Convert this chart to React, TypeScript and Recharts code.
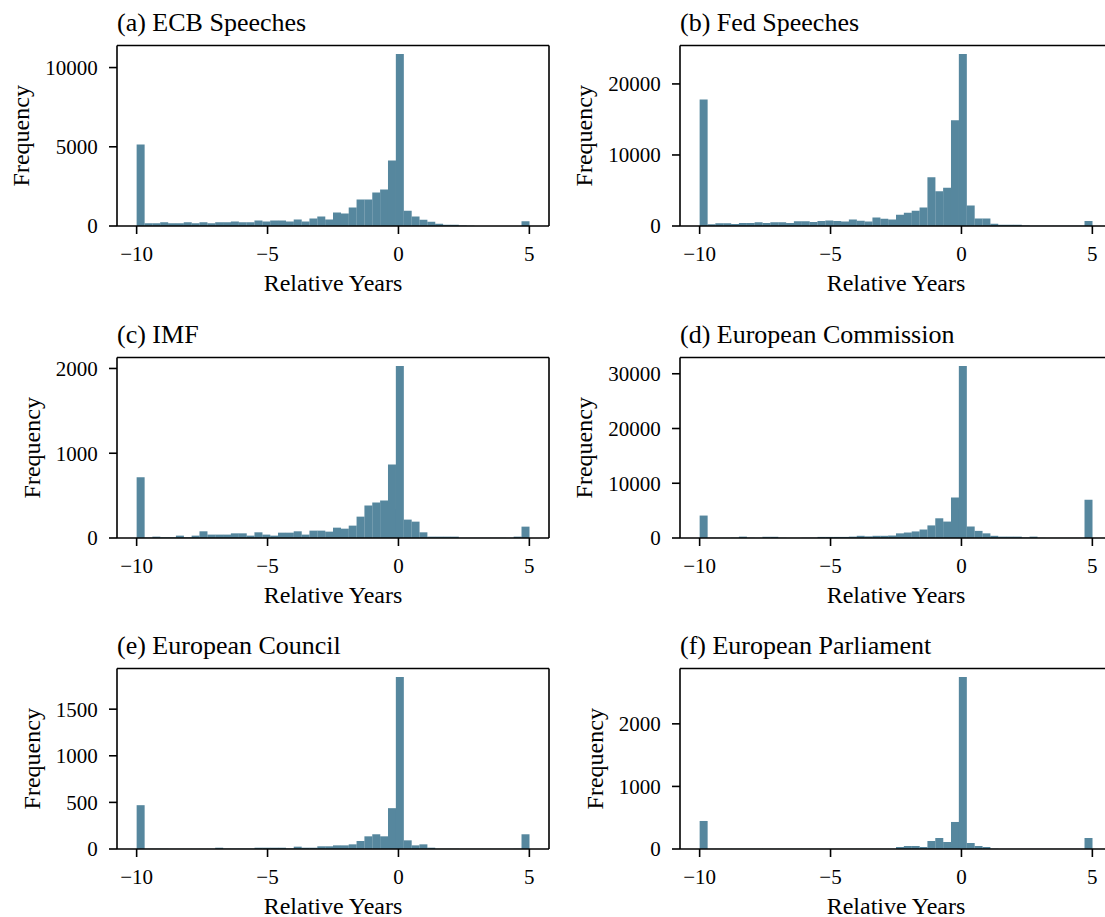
import React from 'react';
import { ComposedChart, Bar, XAxis, YAxis, ReferenceLine } from 'recharts';

const FONT = '"Liberation Serif", "Times New Roman", "DejaVu Serif", serif';
const BAR_COLOR = '#56879e';

// histogram bins: 50 bins of 0.3 years from -10 to 5
const BIN_START = -10;
const BIN_WIDTH = 0.3;
const BIN_COUNT = 50;
const BIN_CENTERS = Array.from({ length: BIN_COUNT }, (_, i) => +(BIN_START + BIN_WIDTH * (i + 0.5)).toFixed(2));

const X_DOMAIN = [-10.75, 5.75];
const X_TICKS = [-10, -5, 0, 5];

const ecbSpeeches = [
  5150, 170, 170, 230, 170, 170, 230, 180, 230, 180, 230, 230, 290, 240, 240, 350, 290, 350, 350, 280,
  410, 280, 470, 600, 410, 850, 790, 1170, 1680, 1680, 2120, 2300, 4130, 10850, 970, 600, 400, 270, 140, 80,
  80, 30, 10, 5, 5, 5, 5, 5, 5, 300,
];
const fedSpeeches = [
  17800, 250, 380, 380, 280, 420, 420, 520, 430, 520, 520, 420, 680, 680, 560, 700, 780, 700, 640, 900,
  750, 640, 1180, 1020, 900, 1600, 1880, 2150, 2600, 6850, 4900, 5400, 14900, 24200, 2900, 1050, 1050, 320, 180, 170,
  170, 60, 40, 30, 20, 20, 20, 20, 20, 700,
];
const imf = [
  718, 5, 16, 8, 8, 28, 8, 28, 79, 40, 40, 40, 55, 55, 28, 67, 40, 28, 63, 63,
  79, 40, 87, 87, 75, 122, 110, 146, 252, 383, 418, 442, 868, 2028, 217, 193, 67, 16, 16, 16,
  16, 3, 3, 3, 3, 3, 3, 2, 16, 134,
];
const europeanCommission = [
  4100, 50, 40, 40, 60, 250, 60, 40, 220, 220, 60, 40, 40, 60, 60, 200, 200, 200, 200, 250,
  400, 300, 400, 400, 450, 850, 1000, 1200, 1550, 2300, 3600, 3000, 7400, 31400, 2100, 1300, 850, 400, 250, 250,
  250, 100, 250, 50, 30, 30, 30, 30, 30, 7000,
];
const europeanCouncil = [
  470, 3, 3, 3, 2, 2, 2, 2, 2, 2, 14, 4, 4, 4, 4, 14, 14, 14, 14, 6,
  25, 14, 14, 29, 29, 39, 39, 50, 86, 136, 158, 136, 438, 1844, 93, 39, 50, 14, 3, 3,
  3, 2, 2, 2, 2, 2, 2, 2, 3, 158,
];
const europeanParliament = [
  448, 3, 3, 3, 3, 3, 3, 3, 3, 3, 3, 3, 3, 3, 3, 3, 3, 3, 3, 3,
  3, 3, 3, 3, 3, 32, 48, 48, 32, 128, 176, 112, 432, 2747, 96, 48, 32, 5, 2, 2,
  2, 2, 2, 2, 2, 2, 2, 2, 2, 176,
];

const TITLES = [
  '(a) ECB Speeches',
  '(b) Fed Speeches',
  '(c) IMF',
  '(d) European Commission',
  '(e) European Council',
  '(f) European Parliament',
];
const SERIES = [ecbSpeeches, fedSpeeches, imf, europeanCommission, europeanCouncil, europeanParliament];
const Y_TICKS = [
  [0, 5000, 10000],
  [0, 10000, 20000],
  [0, 1000, 2000],
  [0, 10000, 20000, 30000],
  [0, 500, 1000, 1500],
  [0, 1000, 2000],
];

const TICK_FONT = 21;
const fmt = (v: number) => (v < 0 ? '\u2212' + Math.abs(v) : String(v));

const PanelTitle = ({ viewBox, text }: any) => (
  <text x={viewBox.x} y={viewBox.y - 14.5} fontSize={26} fontFamily={FONT} fill="#000">
    {text}
  </text>
);

const XLabel = ({ viewBox }: any) => (
  <text x={viewBox.x + viewBox.width / 2} y={viewBox.y + 65} textAnchor="middle" fontSize={24} fontFamily={FONT} fill="#000">
    Relative Years
  </text>
);

const YLabel = ({ viewBox, labelX }: any) => {
  const cy = viewBox.y + viewBox.height / 2;
  return (
    <text x={labelX} y={cy} transform={`rotate(-90 ${labelX} ${cy})`} textAnchor="middle" fontSize={24} fontFamily={FONT} fill="#000">
      Frequency
    </text>
  );
};

const AXIS_STROKE = { stroke: '#000', strokeWidth: 1.6 };

function Panel({ index }: { index: number }) {
  const counts = SERIES[index];
  const data = BIN_CENTERS.map((x, i) => ({ x, count: counts[i] }));
  const yTop = Math.max(...counts) * 1.05;
  const ticks = Y_TICKS[index];
  const digits = String(ticks[ticks.length - 1]).length;
  const labelX = 117 - 19.3 - digits * TICK_FONT * 0.5 - 16;
  const col = index % 2;
  const row = Math.floor(index / 2);
  return (
    <div style={{ position: 'absolute', left: col * 563, top: row * 311.6 }}>
      <ComposedChart
        width={560}
        height={300}
        data={data}
        margin={{ top: 45.5, right: 11, bottom: 0, left: 0 }}
        barCategoryGap={0}
        barGap={0}
      >
        <XAxis
          dataKey="x"
          type="number"
          domain={X_DOMAIN}
          allowDataOverflow
          ticks={X_TICKS}
          tickFormatter={fmt}
          height={74}
          tickSize={8}
          tickMargin={12}
          axisLine={AXIS_STROKE}
          tickLine={AXIS_STROKE}
          tick={{ fontSize: TICK_FONT, fill: '#000', fontFamily: FONT }}
          label={<XLabel />}
        />
        <YAxis
          type="number"
          domain={[0, yTop]}
          allowDataOverflow
          ticks={ticks}
          width={117}
          tickSize={8}
          tickMargin={11.3}
          axisLine={AXIS_STROKE}
          tickLine={AXIS_STROKE}
          tick={{ fontSize: TICK_FONT, fill: '#000', fontFamily: FONT }}
          label={<YLabel labelX={labelX} />}
        />
        <Bar dataKey="count" fill={BAR_COLOR} isAnimationActive={false} />
        <ReferenceLine y={yTop} stroke="#000" strokeWidth={1.6} label={<PanelTitle text={TITLES[index]} />} />
        <ReferenceLine x={X_DOMAIN[1]} stroke="#000" strokeWidth={1.6} />
      </ComposedChart>
    </div>
  );
}

export default function App() {
  return (
    <div style={{ position: 'absolute', left: 0, top: 0, width: 1105, height: 917, overflow: 'hidden', background: '#fff' }}>
      {SERIES.map((_, i) => (
        <Panel key={i} index={i} />
      ))}
    </div>
  );
}
